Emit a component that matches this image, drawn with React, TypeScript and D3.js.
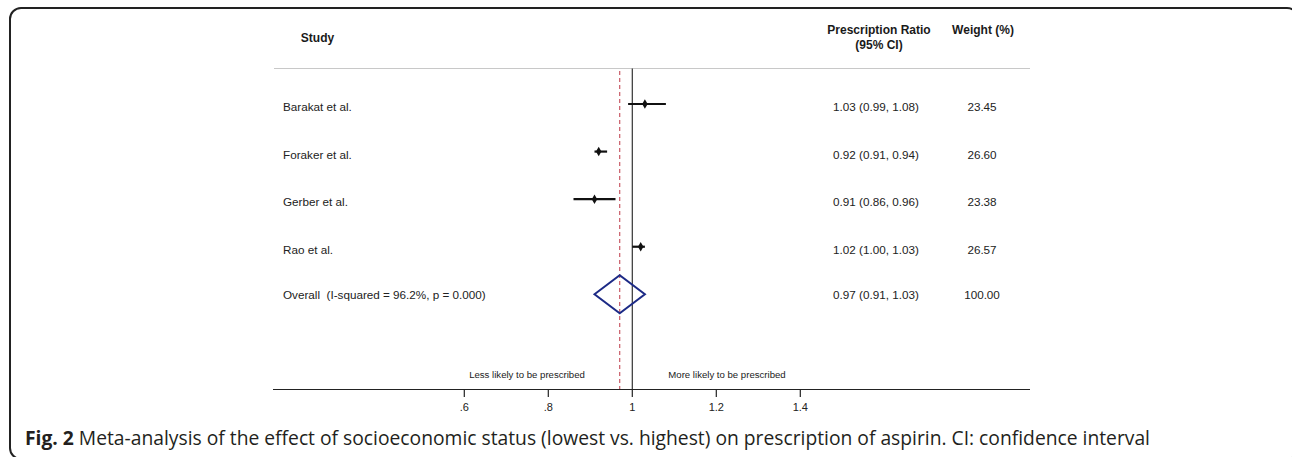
import React from "react";
import * as d3 from "d3";

const studies = ["Barakat et al.", "Foraker et al.", "Gerber et al.", "Rao et al."];
const estimates = [1.03, 0.92, 0.91, 1.02];
const lowers = [0.99, 0.91, 0.86, 1.0];
const uppers = [1.08, 0.94, 0.96, 1.03];
const weights = ["23.45", "26.60", "23.38", "26.57"];
const overallLabel = "Overall  (I-squared = 96.2%, p = 0.000)";
const overall = { est: 0.97, lo: 0.91, hi: 1.03, weight: "100.00" };
const xTicks = [0.6, 0.8, 1, 1.2, 1.4];
const tickLabels = [".6", ".8", "1", "1.2", "1.4"];

const W = 1292;
const H = 457;
const FONT = "'Liberation Sans', Arial, sans-serif";

export default function App() {
  const x = d3.scaleLinear().domain([0.6, 1.4]).range([464.3, 800.3]);
  const rows = [...studies, overallLabel];
  const y = d3.scalePoint<string>().domain(rows).range([104, 294.3]);
  const axisY = 389.5;
  const fmt = (v: number) => v.toFixed(2);
  const diamond = d3.symbol().type(d3.symbolDiamond).size(26);

  return (
    <svg width={W} height={H} style={{ position: "absolute", left: 0, top: 0 }}>
      <rect x={0} y={0} width={W} height={H} fill="#fff" />
      <rect x={10} y={8} width={1288} height={451} rx={11} fill="none" stroke="#222" strokeWidth={2} />

      {/* headers */}
      <g fontFamily={FONT} fontSize={12} fill="#1a1a1a" fontWeight="bold" textAnchor="middle">
        <text x={317.5} y={42}>Study</text>
        <text x={879} y={34}>Prescription Ratio</text>
        <text x={879} y={49}>(95% CI)</text>
        <text x={983} y={34}>Weight (%)</text>
      </g>
      <line x1={274} x2={1030} y1={68.5} y2={68.5} stroke="#c8c8c8" strokeWidth={1.2} />

      {/* reference lines */}
      <line x1={x(1)} x2={x(1)} y1={68.5} y2={axisY} stroke="#333" strokeWidth={1.2} />
      <line x1={x(overall.est)} x2={x(overall.est)} y1={71} y2={axisY} stroke="#c85a66" strokeWidth={1.2} strokeDasharray="4,3" />

      {/* study rows */}
      {studies.map((s, i) => {
        const yy = y(s)!;
        return (
          <g key={s}>
            <line x1={x(lowers[i])} x2={x(uppers[i])} y1={yy} y2={yy} stroke="#111" strokeWidth={2.2} />
            <path d={diamond()!} transform={`translate(${x(estimates[i])},${yy})`} fill="#111" />
            <text x={283} y={yy + 7} fontFamily={FONT} fontSize={11.7} fill="#222">{s}</text>
            <text x={876} y={yy + 7} fontFamily={FONT} fontSize={11.7} fill="#222" textAnchor="middle">
              {`${fmt(estimates[i])} (${fmt(lowers[i])}, ${fmt(uppers[i])})`}
            </text>
            <text x={982} y={yy + 7} fontFamily={FONT} fontSize={11.7} fill="#222" textAnchor="middle">{weights[i]}</text>
          </g>
        );
      })}

      {/* overall */}
      {(() => {
        const yy = y(overallLabel)!;
        const pts = [
          [x(overall.lo), yy],
          [x(overall.est), yy - 19],
          [x(overall.hi), yy],
          [x(overall.est), yy + 19],
        ];
        return (
          <g>
            <path d={d3.line()(pts as [number, number][])! + "Z"} fill="none" stroke="#1c2a86" strokeWidth={2} />
            <text x={283} y={yy + 5} fontFamily={FONT} fontSize={11.7} fill="#222" style={{ whiteSpace: "pre" }}>{overallLabel}</text>
            <text x={876} y={yy + 5} fontFamily={FONT} fontSize={11.7} fill="#222" textAnchor="middle">
              {`${fmt(overall.est)} (${fmt(overall.lo)}, ${fmt(overall.hi)})`}
            </text>
            <text x={982} y={yy + 5} fontFamily={FONT} fontSize={11.7} fill="#222" textAnchor="middle">{overall.weight}</text>
          </g>
        );
      })()}

      {/* direction labels */}
      <g fontFamily={FONT} fontSize={9.6} fill="#222" textAnchor="middle">
        <text x={527} y={377.5}>Less likely to be prescribed</text>
        <text x={727} y={377.5}>More likely to be prescribed</text>
      </g>

      {/* x axis */}
      <line x1={273} x2={1030} y1={axisY} y2={axisY} stroke="#222" strokeWidth={1.2} />
      {xTicks.map((t, i) => (
        <g key={t}>
          <line x1={x(t)} x2={x(t)} y1={axisY} y2={axisY + 7.5} stroke="#222" strokeWidth={1.2} />
          <text x={x(t)} y={axisY + 21} fontFamily={FONT} fontSize={11} fill="#222" textAnchor="middle">{tickLabels[i]}</text>
        </g>
      ))}

      {/* caption */}
      <text x={25} y={445} fontFamily="'Open Sans', sans-serif" fontSize={19.5} fill="#231f20" textLength={1125} lengthAdjust="spacingAndGlyphs">
        <tspan fontWeight="bold">Fig. 2</tspan>
        <tspan> Meta-analysis of the effect of socioeconomic status (lowest vs. highest) on prescription of aspirin. CI: confidence interval</tspan>
      </text>
    </svg>
  );
}
